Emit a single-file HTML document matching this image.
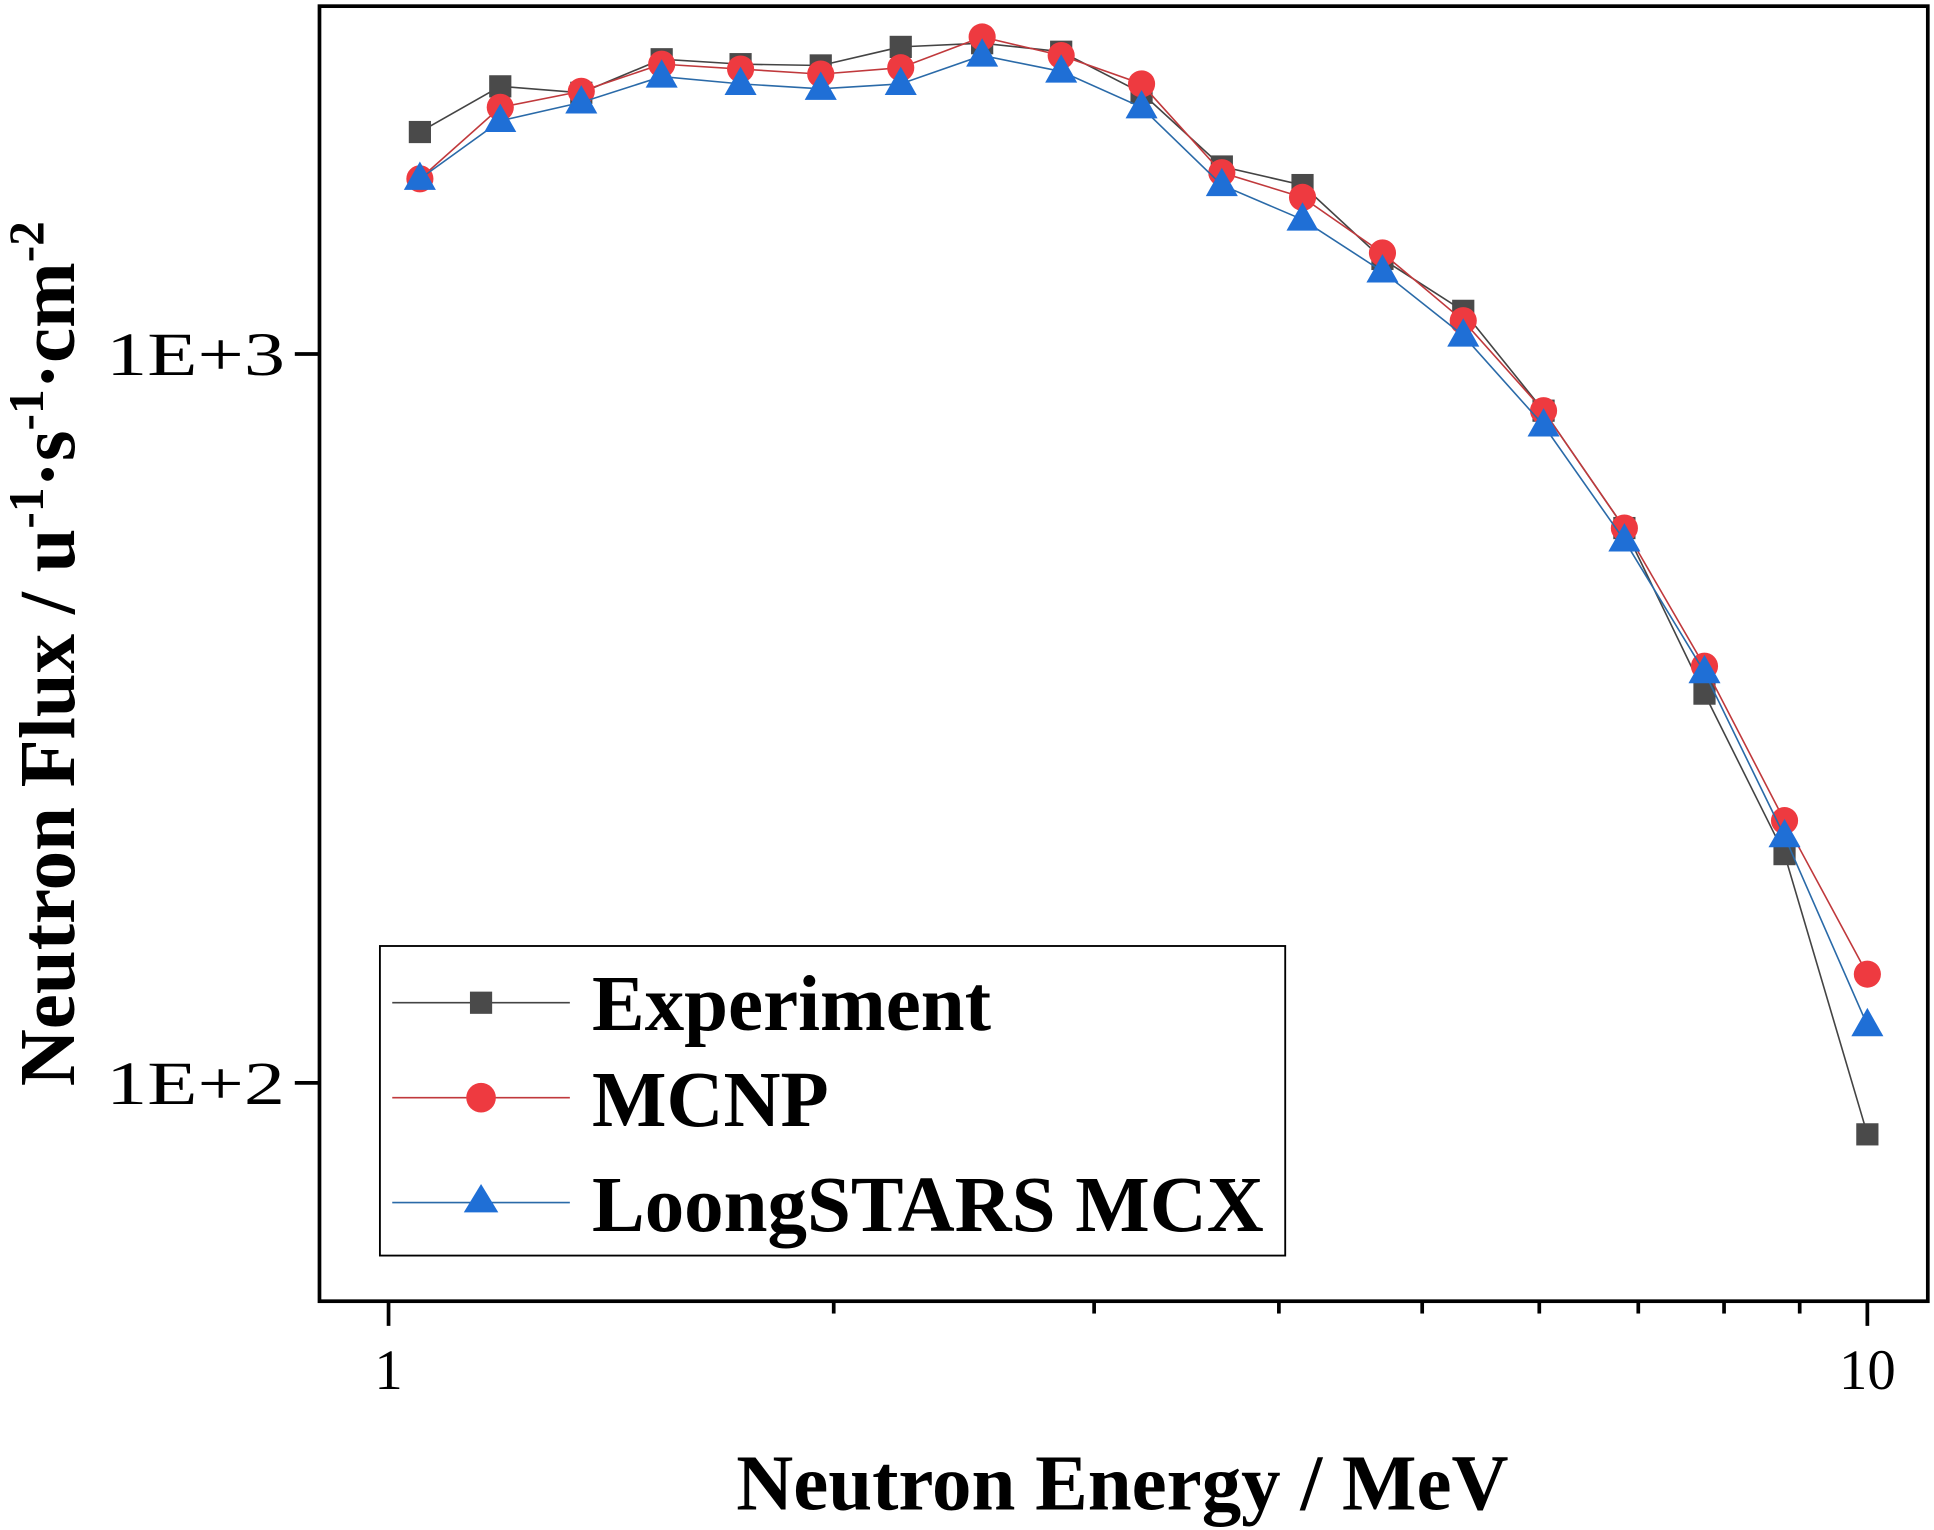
<!DOCTYPE html>
<html><head><meta charset="utf-8"><style>
html,body{margin:0;padding:0;background:#fff;}
svg{display:block;}
text{font-family:"Liberation Serif",serif;fill:#000;}
</style></head><body>
<svg id="chart" width="1934" height="1530" viewBox="0 0 1568 1240.5" xmlns="http://www.w3.org/2000/svg">
<rect x="259" y="5" width="1304" height="1050" fill="none" stroke="#000" stroke-width="3"/>
<g id="axes"></g>
<g id="series"></g>
<g>
<rect x="308" y="767" width="734" height="251" fill="#fff" stroke="#000" stroke-width="1.5"/>
<g>
<line x1="318" y1="813" x2="462" y2="813" stroke="#444" stroke-width="1.3"/>
<rect x="381" y="804" width="18" height="18" fill="#4a4a4a"/>
<text x="480" y="835" font-size="64" font-weight="bold">Experiment</text></g>
<g>
<line x1="318" y1="890" x2="462" y2="890" stroke="#c0393c" stroke-width="1.3"/>
<circle cx="390" cy="890" r="12" fill="#ee3a40"/>
<text x="480" y="913" font-size="64" font-weight="bold">MCNP</text></g>
<g>
<line x1="318" y1="975" x2="462" y2="975" stroke="#2a6aa8" stroke-width="1.3"/>
<polygon points="390,960 404,983 376,983" fill="#1f6fd6"/>
<text x="480" y="998" font-size="64" font-weight="bold">LoongSTARS MCX</text></g>
</g>
<text x="910" y="1224" font-size="64" font-weight="bold" text-anchor="middle">Neutron Energy / MeV</text>
<text transform="translate(60,530) rotate(-90)" font-size="64" font-weight="bold" text-anchor="middle">Neutron Flux / u<tspan font-size="40" dy="-25">-1</tspan><tspan dy="25">·s</tspan><tspan font-size="40" dy="-25">-1</tspan><tspan dy="25">·cm</tspan><tspan font-size="40" dy="-25">-2</tspan></text>
</svg>
<script>
const energies=[1.05,1.19,1.35,1.53,1.73,1.96,2.22,2.52,2.85,3.23,3.66,4.15,4.70,5.33,6.04,6.85,7.76,8.79,10];
const experiment=[2016,2329,2282,2537,2498,2488,2638,2669,2598,2282,1808,1705,1350,1146,836,577,342,206,85];
const mcnp=[1739,2180,2293,2498,2460,2421,2470,2722,2567,2347,1773,1640,1376,1111,836,577,373,229,141];
const mcx=[1739,2088,2214,2402,2347,2311,2347,2567,2441,2180,1705,1529,1298,1060,798,555,366,218,120];
const xTicks=[1,10];
const xTickLabels=["1","10"];
const yTicks=[100,1000];
const yTickLabels=["1E+2","1E+3"];
const NS="http://www.w3.org/2000/svg";
function X(v){return 315+1199*Math.log10(v);}
function Y(v){return 287-591*(Math.log10(v)-3);}
function mk(tag,attrs,parent){const e=document.createElementNS(NS,tag);for(const k in attrs)e.setAttribute(k,attrs[k]);parent.appendChild(e);return e;}
const axes=document.getElementById('axes');
for(let d=0;d<2;d++){for(let m=1;m<=9;m++){const v=m*Math.pow(10,d);if(v>10.5)continue;const x=X(v);if(x<259||x>1563)continue;const major=(m===1);
const t=mk('line',{x1:x,y1:1055,x2:x,y2:1055+(major?20:10),stroke:'#000','stroke-width':3},axes);

}}
xTicks.forEach((v,i)=>{const t=mk('text',{x:X(v),y:1126,'font-size':46,'text-anchor':'middle'},axes);t.textContent=xTickLabels[i];

});
yTicks.forEach((v,i)=>{const y=Y(v);const l=mk('line',{x1:239,y1:y,x2:259,y2:y,stroke:'#000','stroke-width':3},axes);


const t=mk('text',{x:231,y:y+17,'font-size':50,'text-anchor':'end',textLength:145,lengthAdjust:'spacingAndGlyphs'},axes);t.textContent=yTickLabels[i];

});
const sg=document.getElementById('series');
const defs=[{d:experiment,line:'#444',fill:'#4a4a4a',shape:'sq',name:'experiment'},{d:mcnp,line:'#c0393c',fill:'#ee3a40',shape:'ci',name:'mcnp'},{d:mcx,line:'#2a6aa8',fill:'#1f6fd6',shape:'tr',name:'mcx'}];
defs.forEach(s=>{const g=mk('g',{},sg);


const pts=s.d.map((v,i)=>X(energies[i]).toFixed(1)+','+Y(v).toFixed(1)).join(' ');
const pl=mk('polyline',{points:pts,fill:'none',stroke:s.line,'stroke-width':1.3},g);


s.d.forEach((v,i)=>{const x=X(energies[i]),y=Y(v);let e;
if(s.shape==='sq')e=mk('rect',{x:x-9,y:y-9,width:18,height:18,fill:s.fill},g);
else if(s.shape==='ci')e=mk('circle',{cx:x,cy:y,r:11,fill:s.fill},g);
else e=mk('polygon',{points:`${x},${y-14} ${x+13},${y+9} ${x-13},${y+9}`,fill:s.fill},g);

});});
</script>
</body></html>
